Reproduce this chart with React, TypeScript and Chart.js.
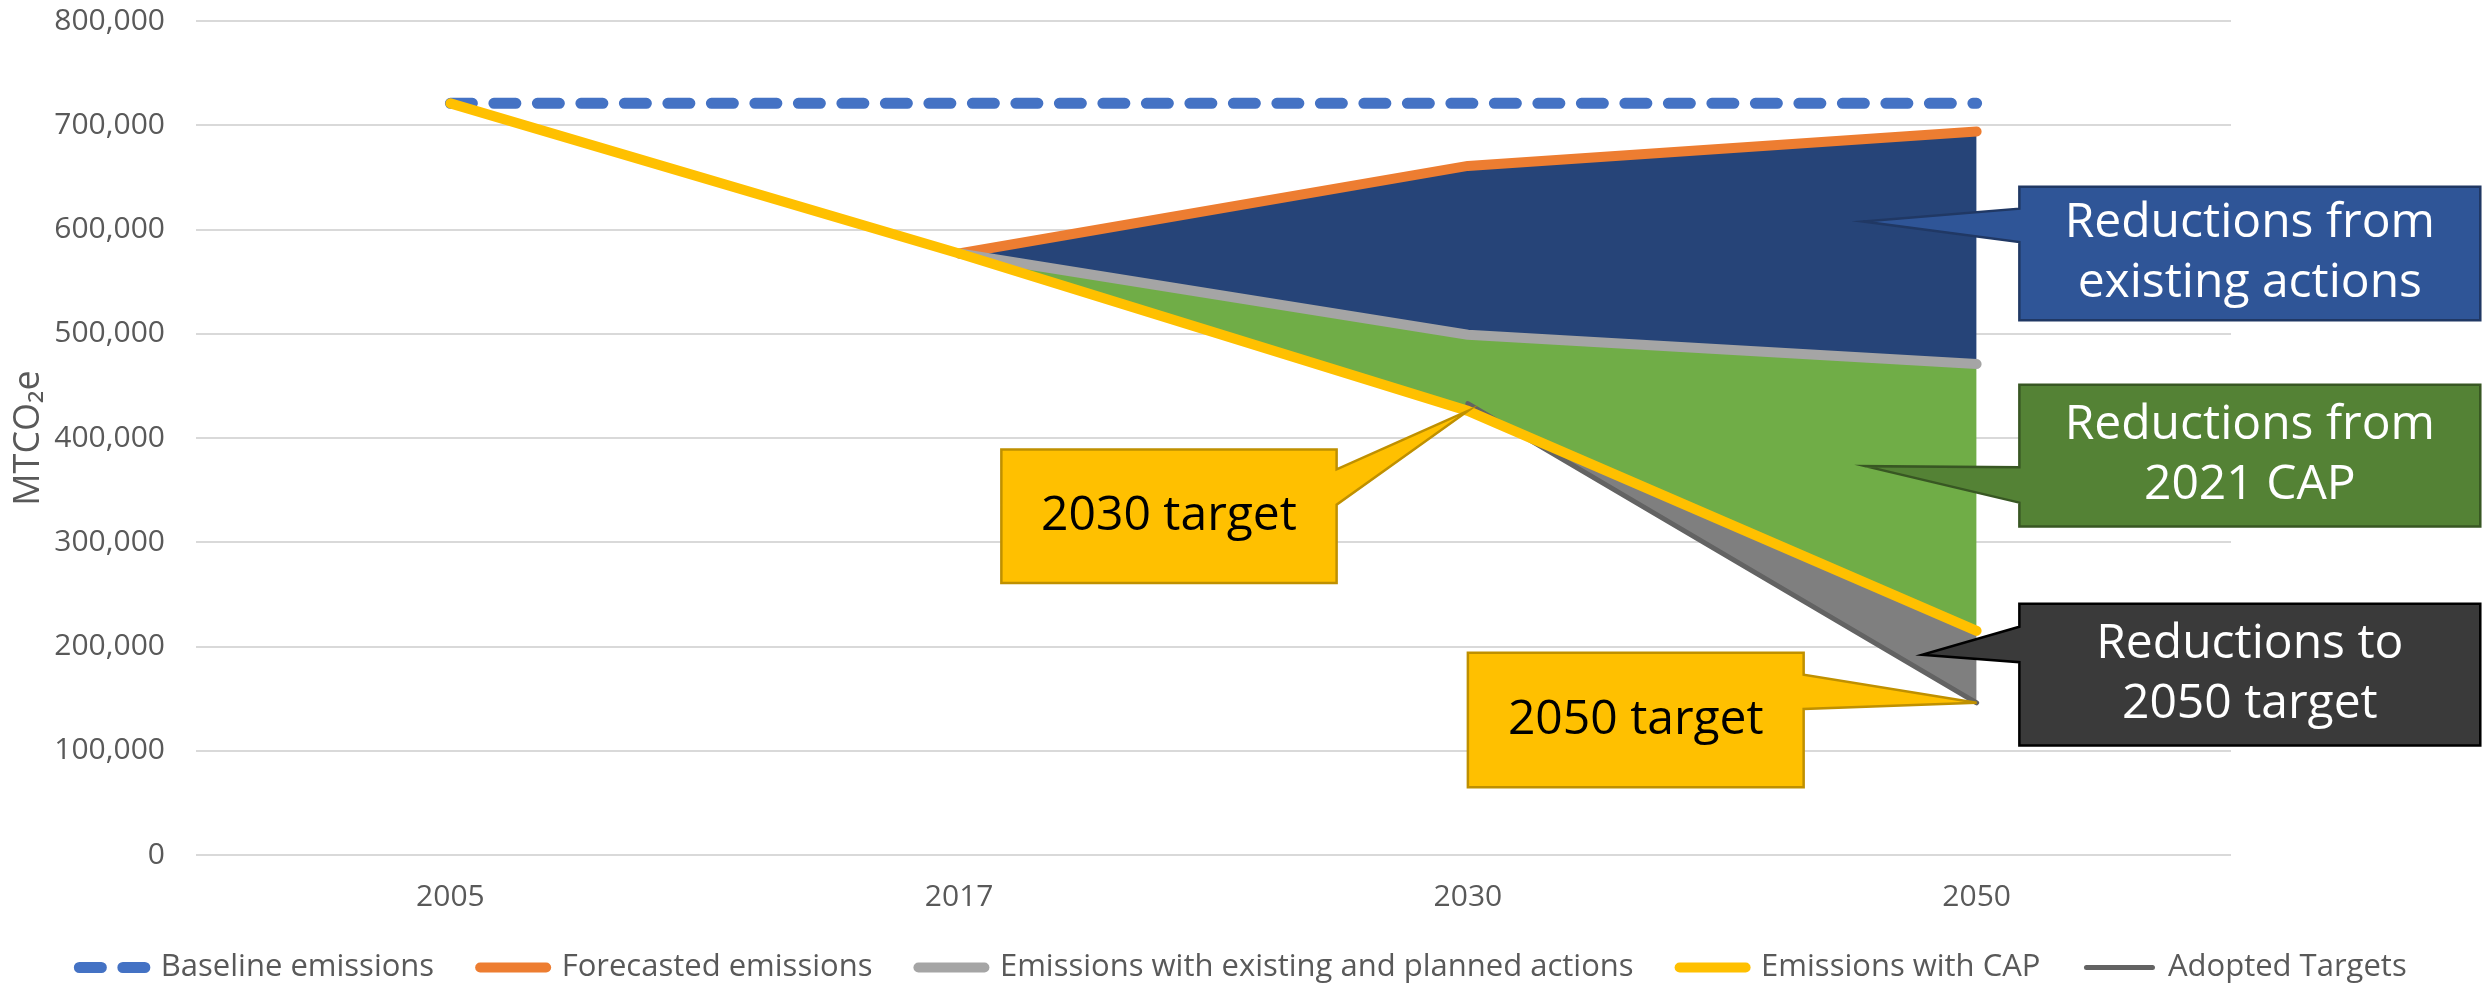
import React, { useEffect, useRef } from 'react';
import { Chart, registerables } from 'chart.js';

Chart.register(...registerables);

// ---- data ----
const years = ['2005', '2017', '2030', '2050'];
const baselineEmissions = [721000, 721000, 721000, 721000];
const forecastedEmissions = [null, 577000, 661000, 694000];
const existingPlannedEmissions = [null, 577000, 499000, 471000];
const capEmissions = [721000, 577000, 426000, 215000];
const adoptedTargets = [null, null, 433000, 146000];
const seriesNames = [
  'Baseline emissions',
  'Forecasted emissions',
  'Emissions with existing and planned actions',
  'Emissions with CAP',
  'Adopted Targets',
];
const yAxisTitle = 'MTCO₂e';

const FONT = "'Open Sans', sans-serif";
const TEXT_GREY = '#595959';

// callout annotations, positioned in scale units (category index, value)
const callouts = [
  {
    lines: ['Reductions from', 'existing actions'],
    x0: 3.084, x1: 3.99, y0: 641000, y1: 513000,
    side: 'left', base: [620000, 588000], tip: [2.777, 607700],
    fill: '#2F5597', stroke: '#203864', color: '#FFFFFF', size: 48,
  },
  {
    lines: ['Reductions from', '2021 CAP'],
    x0: 3.084, x1: 3.99, y0: 451000, y1: 315000,
    side: 'left', base: [372000, 338000], tip: [2.781, 373000],
    fill: '#548235', stroke: '#385723', color: '#FFFFFF', size: 48,
  },
  {
    lines: ['Reductions to', '2050 target'],
    x0: 3.084, x1: 3.99, y0: 241000, y1: 105000,
    side: 'left', base: [219000, 185000], tip: [2.893, 192000],
    fill: '#3A3A3A', stroke: '#000000', color: '#FFFFFF', size: 48,
  },
  {
    lines: ['2030 target'],
    x0: 1.083, x1: 1.742, y0: 389000, y1: 261000,
    side: 'right', base: [370000, 336000], tip: [2, 426000],
    fill: '#FFC000', stroke: '#BF9000', color: '#000000', size: 48,
  },
  {
    lines: ['2050 target'],
    x0: 2.0, x1: 2.66, y0: 194000, y1: 65000,
    side: 'right', base: [173000, 140000], tip: [3, 146000],
    fill: '#FFC000', stroke: '#BF9000', color: '#000000', size: 48,
  },
];

const calloutPlugin = {
  id: 'callouts',
  afterDraw(chart: any) {
    const { ctx } = chart;
    const x = chart.scales.x;
    const y = chart.scales.y;
    for (const c of callouts) {
      const L = x.getPixelForValue(c.x0);
      const R = x.getPixelForValue(c.x1);
      const T = y.getPixelForValue(c.y0);
      const B = y.getPixelForValue(c.y1);
      const b1 = y.getPixelForValue(c.base[0]);
      const b2 = y.getPixelForValue(c.base[1]);
      const tx = x.getPixelForValue(c.tip[0]);
      const ty = y.getPixelForValue(c.tip[1]);
      ctx.save();
      ctx.beginPath();
      if (c.side === 'left') {
        ctx.moveTo(L, T);
        ctx.lineTo(R, T);
        ctx.lineTo(R, B);
        ctx.lineTo(L, B);
        ctx.lineTo(L, b2);
        ctx.lineTo(tx, ty);
        ctx.lineTo(L, b1);
      } else {
        ctx.moveTo(L, T);
        ctx.lineTo(R, T);
        ctx.lineTo(R, b1);
        ctx.lineTo(tx, ty);
        ctx.lineTo(R, b2);
        ctx.lineTo(R, B);
        ctx.lineTo(L, B);
      }
      ctx.closePath();
      ctx.fillStyle = c.fill;
      ctx.fill();
      ctx.lineWidth = 2.5;
      ctx.lineJoin = 'miter';
      ctx.strokeStyle = c.stroke;
      ctx.stroke();
      ctx.fillStyle = c.color;
      ctx.font = `${c.size}px ${FONT}`;
      ctx.textAlign = 'center';
      ctx.textBaseline = 'middle';
      const cx = (L + R) / 2;
      const cy = (T + B) / 2;
      const lh = c.size * 1.25;
      c.lines.forEach((t, i) => {
        ctx.fillText(t, cx, cy + (i - (c.lines.length - 1) / 2) * lh);
      });
      ctx.restore();
    }
  },
};

export default function App() {
  const canvasRef = useRef<HTMLCanvasElement | null>(null);

  useEffect(() => {
    if (!canvasRef.current) return;
    const common = {
      pointRadius: 0,
      pointHoverRadius: 0,
      tension: 0,
      borderCapStyle: 'round',
      borderJoinStyle: 'round',
    };
    const chart = new Chart(canvasRef.current, {
      type: 'line',
      data: {
        labels: years,
        datasets: [
          {
            ...common,
            label: seriesNames[0],
            data: baselineEmissions,
            borderColor: '#4472C4',
            backgroundColor: '#4472C4',
            borderWidth: 11,
            borderDash: [22, 21.5],
            fill: false,
            order: 4,
          },
          {
            ...common,
            label: seriesNames[1],
            data: forecastedEmissions,
            borderColor: '#ED7D31',
            backgroundColor: '#264478',
            borderWidth: 10,
            fill: { target: 2 },
            order: 3,
          },
          {
            ...common,
            label: seriesNames[2],
            data: existingPlannedEmissions,
            borderColor: '#A5A5A5',
            backgroundColor: '#70AD47',
            borderWidth: 10,
            fill: { target: 3 },
            order: 2,
          },
          {
            ...common,
            label: seriesNames[3],
            data: capEmissions,
            borderColor: '#FFC000',
            backgroundColor: '#7F7F7F',
            borderWidth: 10,
            fill: { target: 4 },
            order: 0,
          },
          {
            ...common,
            label: seriesNames[4],
            data: adoptedTargets,
            borderColor: '#636363',
            backgroundColor: '#636363',
            borderWidth: 5,
            fill: false,
            order: 1,
          },
        ],
      },
      options: {
        responsive: false,
        animation: false,
        events: [],
        layout: { padding: { top: 20, left: 0, right: 0, bottom: -3 } },
        scales: {
          x: {
            offset: true,
            grid: { display: false, drawTicks: false },
            border: { display: false },
            ticks: { color: TEXT_GREY, font: { family: FONT, size: 30 }, padding: 24 },
            afterFit: (s: any) => { s.height = 51; },
          },
          y: {
            min: 0,
            max: 800000,
            grid: {
              color: '#D9D9D9',
              lineWidth: 2,
              drawTicks: true,
              tickLength: 28,
              tickColor: 'rgba(0,0,0,0)',
            },
            border: { display: false },
            ticks: {
              stepSize: 100000,
              color: TEXT_GREY,
              font: { family: FONT, size: 30 },
              padding: 3,
              callback: (v: any) => Number(v).toLocaleString('en-US'),
            },
            title: {
              display: true,
              text: yAxisTitle,
              color: TEXT_GREY,
              font: { family: FONT, size: 36 },
              padding: { top: 7, bottom: 4 },
            },
            afterFit: (s: any) => { s.width = 196; },
          },
          yRight: {
            position: 'right',
            display: true,
            grid: { display: false, drawTicks: false },
            border: { display: false },
            ticks: { display: false },
            afterFit: (s: any) => { s.width = 255; },
          },
        },
        plugins: {
          filler: { drawTime: 'beforeDatasetsDraw' },
          tooltip: { enabled: false },
          legend: {
            position: 'bottom',
            labels: {
              usePointStyle: true,
              pointStyle: 'line',
              pointStyleWidth: 66,
              padding: 46,
              color: TEXT_GREY,
              font: { family: FONT, size: 31 },
              sort: (a: any, b: any) => a.datasetIndex - b.datasetIndex,
              generateLabels: (ch: any) => {
                const items = (Chart as any).defaults.plugins.legend.labels.generateLabels(ch);
                items.forEach((it: any) => {
                  const ds = ch.data.datasets[it.datasetIndex];
                  it.lineDash = ds.borderDash || [];
                  it.lineCap = 'round';
                  it.strokeStyle = ds.borderColor;
                  it.lineWidth = ds.borderWidth;
                });
                return items;
              },
            },
          },
        },
      },
      plugins: [calloutPlugin],
    } as any);
    return () => chart.destroy();
  }, []);

  return (
    <div style={{ position: 'fixed', left: 0, top: 0, width: 2486, height: 990, background: '#fff' }}>
      <canvas ref={canvasRef} width={2486} height={990} style={{ display: 'block' }} />
    </div>
  );
}
